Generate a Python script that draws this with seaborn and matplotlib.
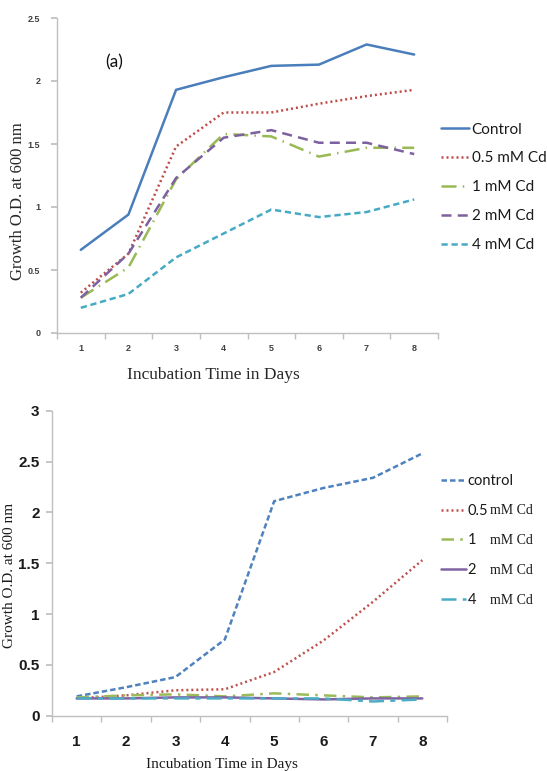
import numpy as np
import pandas as pd
import matplotlib
matplotlib.use("Agg")
import matplotlib.pyplot as plt
import seaborn as sns

sns.set_theme(style="white")
plt.rcParams['font.family'] = ['Liberation Sans', 'DejaVu Sans']

days = [1, 2, 3, 4, 5, 6, 7, 8]

# Panel (a)
top_series = ["Control", "0.5 mM Cd", "1 mM Cd", "2 mM Cd", "4 mM Cd"]
top_control = [0.66, 0.94, 1.93, 2.03, 2.12, 2.13, 2.29, 2.21]
top_05 = [0.32, 0.63, 1.48, 1.75, 1.75, 1.82, 1.88, 1.93]
top_1 = [0.28, 0.52, 1.22, 1.58, 1.56, 1.40, 1.47, 1.47]
top_2 = [0.28, 0.63, 1.23, 1.55, 1.61, 1.51, 1.51, 1.42]
top_4 = [0.20, 0.31, 0.60, 0.79, 0.98, 0.92, 0.96, 1.06]

# Panel (b)
bot_series = ["control", "0.5", "1", "2", "4"]
bot_control = [0.19, 0.28, 0.38, 0.75, 2.11, 2.24, 2.34, 2.58]
bot_05 = [0.17, 0.20, 0.25, 0.26, 0.43, 0.74, 1.12, 1.53]
bot_1 = [0.18, 0.20, 0.21, 0.19, 0.22, 0.20, 0.18, 0.19]
bot_2 = [0.17, 0.17, 0.18, 0.18, 0.17, 0.16, 0.17, 0.17]
bot_4 = [0.17, 0.17, 0.17, 0.17, 0.17, 0.17, 0.14, 0.16]

top_df = pd.DataFrame({
    "day": days * 5,
    "od": top_control + top_05 + top_1 + top_2 + top_4,
    "series": sum([[s] * 8 for s in top_series], []),
})
bot_df = pd.DataFrame({
    "day": days * 5,
    "od": bot_control + bot_05 + bot_1 + bot_2 + bot_4,
    "series": sum([[s] * 8 for s in bot_series], []),
})

top_pal = dict(zip(top_series, ["#4A7EBB", "#BE4B48", "#98B954", "#7D60A0", "#46AAC5"]))
top_dash = dict(zip(top_series, ["", (0.8, 1.2), (6, 2.5, 0.6, 2.5), (4, 2.5), (2.5, 1.5)]))
bot_pal = dict(zip(bot_series, ["#4F81BD", "#C0504D", "#9BBB59", "#8064A2", "#4BACC6"]))
bot_dash = dict(zip(bot_series, [(2.2, 1.2), (0.8, 1.2), (5, 2.5, 1, 2.5), "", (6, 2.5, 2, 2.5)]))

fig = plt.figure(figsize=(5.47, 7.71), dpi=100)
W, H = 547, 771
ax1 = fig.add_axes([57 / W, (H - 333) / H, (438 - 57) / W, (333 - 18) / H])
ax2 = fig.add_axes([52 / W, (H - 715.7) / H, (447 - 52) / W, (715.7 - 410.7) / H])

sns.lineplot(data=top_df, x="day", y="od", hue="series", style="series",
             palette=top_pal, dashes=top_dash, linewidth=1.8, ax=ax1)
sns.lineplot(data=bot_df, x="day", y="od", hue="series", style="series",
             palette=bot_pal, dashes=bot_dash, linewidth=1.8, ax=ax2)

grid = "#BFBFBF"
for ax, ymax, step in [(ax1, 2.5, 0.5), (ax2, 3.0, 0.5)]:
    ax.set_xlim(0.5, 8.5)
    ax.set_ylim(0, ymax)
    ax.set_xticks(days)
    ax.set_xticks(np.arange(0.5, 8.6, 1.0), minor=True)
    ax.set_yticks(np.arange(0, ymax + 0.01, step))
    for sp in ["top", "right"]:
        ax.spines[sp].set_visible(False)
    for sp in ["left", "bottom"]:
        ax.spines[sp].set_color(grid)
        ax.spines[sp].set_linewidth(1.0)
    ax.tick_params(axis="x", which="major", length=0)
    ax.tick_params(axis="x", which="minor", length=4, color=grid, direction="out", bottom=True)
    ax.tick_params(axis="y", which="major", length=4, color=grid, direction="out", left=True)
    ax.set_xlabel("")
    ax.set_ylabel("")

# top tick labels
ax1.set_yticklabels(["0", "0.5", "1", "1.5", "2", "2.5"])
ax1.tick_params(axis="both", labelsize=6.5, labelcolor="#404040", pad=8)
for t in ax1.get_xticklabels() + ax1.get_yticklabels():
    t.set_fontweight("bold")
ax2.set_yticklabels(["0", "0.5", "1", "1.5", "2", "2.5", "3"])
ax2.tick_params(axis="both", labelsize=11, labelcolor="#1a1a1a")
ax2.tick_params(axis="x", pad=14)
ax2.tick_params(axis="y", pad=5)
for t in ax2.get_xticklabels() + ax2.get_yticklabels():
    t.set_fontweight("bold")

serif = ["Liberation Serif", "DejaVu Serif"]
ax1.set_ylabel("Growth O.D. at 600 nm", family=serif, fontsize=12, color="#262626")
ax1.yaxis.set_label_coords(-0.081, 0.42)
ax1.set_xlabel("Incubation Time in Days", family=serif, fontsize=12.5, color="#262626")
ax1.xaxis.set_label_coords(0.41, -0.108)
ax1.text(0.126, 0.86, "(a)", transform=ax1.transAxes, fontsize=12.5,
         family=["Lato", "DejaVu Sans"], va="center", ha="left", color="#111111")

ax2.set_ylabel("Growth O.D. at 600 nm", family=serif, fontsize=11, color="#1a1a1a")
ax2.yaxis.set_label_coords(-0.092, 0.46)
ax2.set_xlabel("Incubation Time in Days", family=serif, fontsize=11, color="#1a1a1a")
ax2.xaxis.set_label_coords(0.43, -0.14)

# legends
h1, l1 = ax1.get_legend_handles_labels()
ax1.get_legend().remove()
leg1 = fig.legend(h1, l1, loc="upper left", bbox_to_anchor=(441 / W, (H - 122.5) / H),
                  frameon=False, prop={"family": ["Lato", "DejaVu Sans"], "size": 11},
                  handlelength=1.85, handletextpad=0.15, labelspacing=0.98,
                  borderpad=0, borderaxespad=0)
for t in leg1.get_texts():
    t.set_color("#1a1a1a")

h2, l2 = ax2.get_legend_handles_labels()
ax2.get_legend().remove()
leg2 = fig.legend(h2, l2, loc="upper left", bbox_to_anchor=(441 / W, (H - 474) / H),
                  frameon=False, prop={"family": ["Lato", "DejaVu Sans"], "size": 10.5},
                  handlelength=1.7, handletextpad=0.12, labelspacing=1.08,
                  borderpad=0, borderaxespad=0)
for t in leg2.get_texts():
    t.set_color("#1a1a1a")

fig.canvas.draw()
inv = fig.transFigure.inverted()
for t in leg2.get_texts()[1:]:
    bb = t.get_window_extent()
    yc = (bb.y0 + bb.y1) / 2
    _, yf = inv.transform((0, yc))
    fig.text(490 / W, yf, "mM Cd", family=serif, fontsize=10, va="center", ha="left",
             color="#1a1a1a")

fig.savefig("out.png", dpi=100, facecolor="white")
